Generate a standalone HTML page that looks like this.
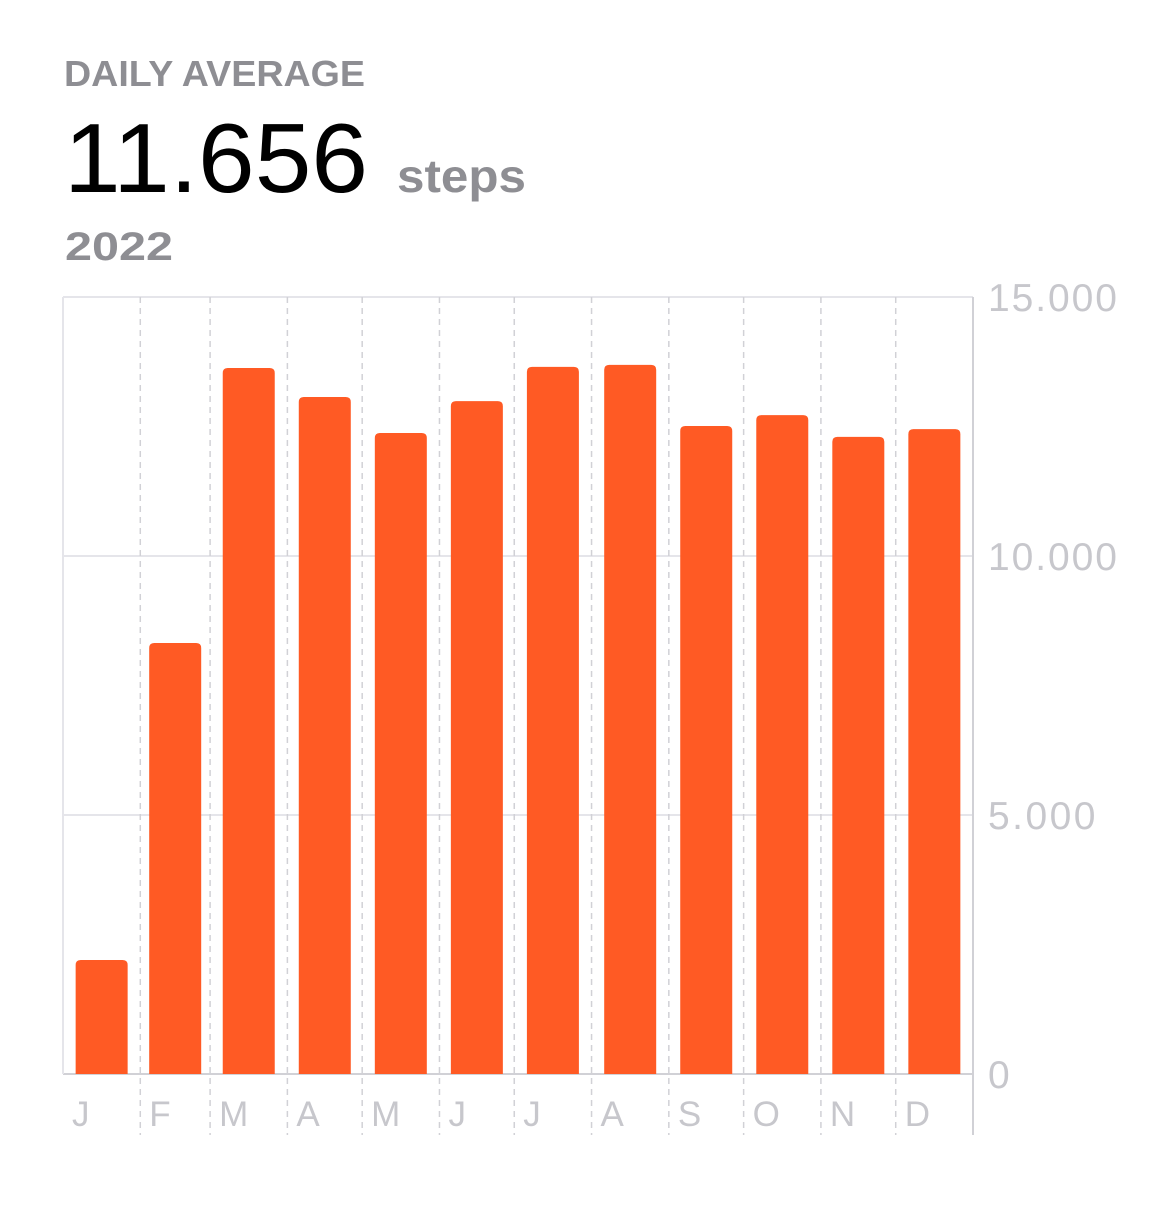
<!DOCTYPE html>
<html><head><meta charset="utf-8"><style>
body{margin:0;width:1154px;height:1216px;background:#fff;font-family:"Liberation Sans",sans-serif;overflow:hidden}
</style></head><body>
<svg id="c" width="1154" height="1216">
<text x="64" y="86" font-size="36" font-weight="bold" fill="#8e8e93" textLength="301" lengthAdjust="spacingAndGlyphs">DAILY AVERAGE</text>
<text x="64" y="192" font-size="98" fill="#000" textLength="304" lengthAdjust="spacingAndGlyphs">11.656</text>
<text x="397" y="192" font-size="46" font-weight="bold" fill="#8e8e93" textLength="129" lengthAdjust="spacingAndGlyphs">steps</text>
<text x="65" y="260" font-size="40" font-weight="bold" fill="#8e8e93" textLength="108" lengthAdjust="spacingAndGlyphs">2022</text>
<g id="plot"></g>
</svg>
<script>
const months=["J","F","M","A","M","J","J","A","S","O","N","D"];
const days=[31,28,31,30,31,30,31,31,30,31,30,31];
const values=[2200,8320,13630,13070,12375,12990,13650,13690,12510,12720,12300,12450];
const yTicks=[0,5000,10000,15000];
const yTickLabels=["0","5.000","10.000","15.000"];
const X0=63,X1=973,Y0=1074,Y1=297,YMAX=15000;
const ns="http://www.w3.org/2000/svg",g=document.getElementById('plot');
function y(v){return Y0-(v/YMAX)*(Y0-Y1);}
function xd(d){return X0+d/365*(X1-X0);}
function el(t,a){const e=document.createElementNS(ns,t);for(const k in a)e.setAttribute(k,a[k]);g.appendChild(e);return e;}
yTicks.forEach((t,i)=>{
 const l=el('line',{x1:X0,x2:X1,y1:y(t),y2:y(t),stroke:i==0?'#d1d1d6':'#e5e5ea','stroke-width':2});
 
 
 const tx=el('text',{x:988,y:y(t)+14,'font-size':39,fill:'#c7c7cc'});
 tx.textContent=yTickLabels[i];
 if(yTickLabels[i].length>1)tx.setAttribute('textLength',yTickLabels[i].length*21.5);
 
 
});
const la=el('line',{x1:X0,x2:X0,y1:Y1,y2:Y0,stroke:'#e5e5ea','stroke-width':2});


const ra=el('line',{x1:X1,x2:X1,y1:Y1,y2:1135,stroke:'#d1d1d6','stroke-width':2});


let cum=0;
months.forEach((m,i)=>{
 const s=xd(cum),e=xd(cum+days[i]);cum+=days[i];
 if(i>0){const d=el('line',{x1:s,x2:s,y1:Y1,y2:1135,stroke:'#d1d1d6','stroke-width':1.5,'stroke-dasharray':'6,5'});
 
 }
 const c=(s+e)/2,w=52,t=y(values[i]),r=5,bx=c-w/2;
 const p=el('path',{d:`M${bx},${Y0}V${t+r}Q${bx},${t} ${bx+r},${t}H${bx+w-r}Q${bx+w},${t} ${bx+w},${t+r}V${Y0}Z`,fill:'#ff5a24'});
 
 
 const tx=el('text',{x:s+9,y:1126,'font-size':35,fill:'#c7c7cc'});
 tx.textContent=m;
 
 
});
</script>
</body></html>
